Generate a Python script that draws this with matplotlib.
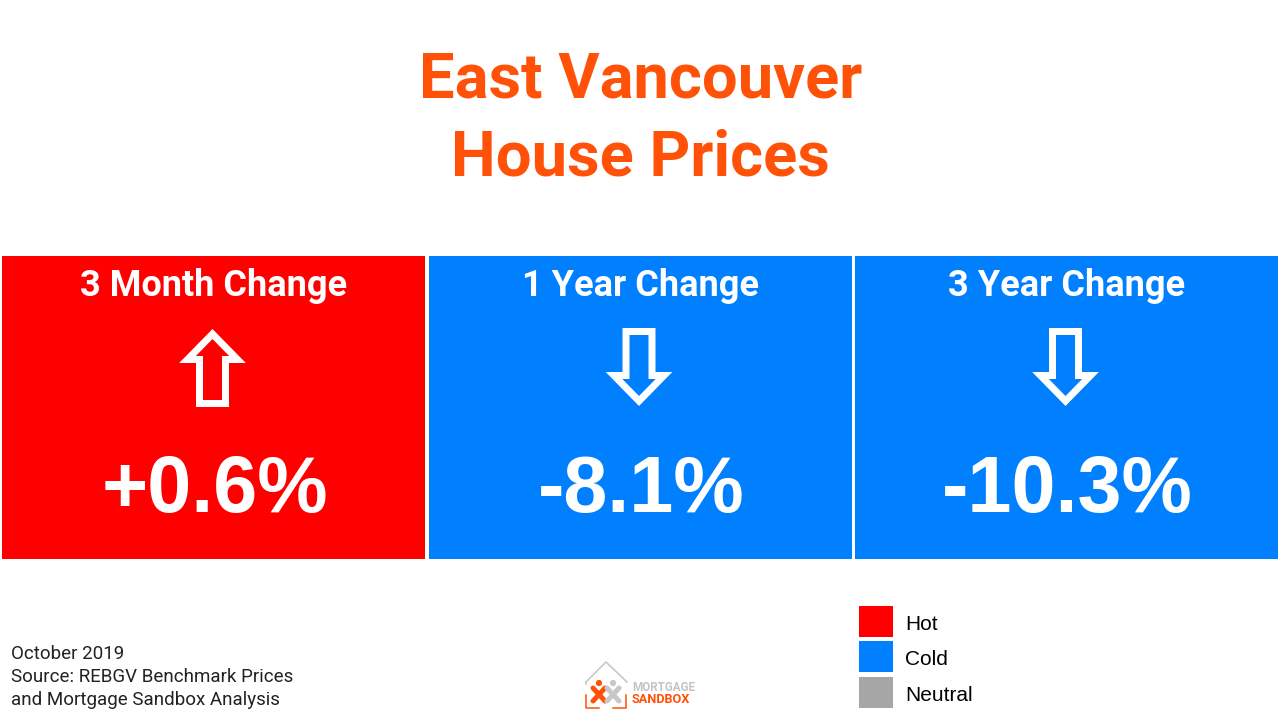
import matplotlib
matplotlib.use("Agg")
import matplotlib.pyplot as plt
from matplotlib.patches import Polygon, Rectangle, Circle

# --- data ---
periods = ["3 Month Change", "1 Year Change", "3 Year Change"]
changes = [0.6, -8.1, -10.3]
change_labels = ["+0.6%", "-8.1%", "-10.3%"]
legend_names = ["Hot", "Cold", "Neutral"]
legend_colors = ["#FF0000", "#0080FF", "#A6A6A6"]
title_lines = ["East Vancouver", "House Prices"]
source_lines = ["October 2019", "Source: REBGV Benchmark Prices", "and Mortgage Sandbox Analysis"]

ORANGE = "#FF5208"
HEAD_FONT = "Roboto"
NUM_FONT = "Liberation Sans"

fig = plt.figure(figsize=(12.8, 7.2), dpi=100)
ax = fig.add_axes([0, 0, 1, 1])
ax.set_xlim(0, 1280)
ax.set_ylim(720, 0)
ax.axis("off")


def draw_arrow(cx, up):
    # outline arrow, path runs along the middle of the white stroke
    s = 1 if up else -1
    mid = 367.5
    tip = mid - s * 33.5
    head = mid - s * 8
    foot = mid + s * 36
    pts = [(cx, tip), (cx + 25, head), (cx + 13, head), (cx + 13, foot),
           (cx - 13, foot), (cx - 13, head), (cx - 25, head)]
    ax.add_patch(Polygon(pts, closed=True, fill=False, edgecolor="white",
                         linewidth=5.04, joinstyle="miter", zorder=3))


# --- title ---
for y, line in zip([97, 175], title_lines):
    ax.text(640.5, y, line, color=ORANGE, fontsize=45.5, fontweight="bold",
            family=HEAD_FONT, ha="center", va="baseline")

# --- panels ---
lefts = [2 + i * 426.5 for i in range(len(periods))]
colors = [legend_colors[0] if c > 0 else legend_colors[1] for c in changes]
ax.bar(lefts, [303] * len(lefts), width=423, bottom=256, align="edge", color=colors)

for left, period, change, label in zip(lefts, periods, changes, change_labels):
    cx = left + 211.5
    ax.text(cx, 296, period, color="white", fontsize=26, fontweight="bold",
            family=HEAD_FONT, ha="center", va="baseline", zorder=3)
    draw_arrow(cx - 1, change > 0)
    ax.text(cx + 1, 512, label, color="white", fontsize=57, fontweight="bold",
            family=NUM_FONT, ha="center", va="baseline", zorder=3)

# --- legend ---
for y, name, color in zip([606, 641, 677], legend_names, legend_colors):
    ax.add_patch(Rectangle((859, y), 34, 31, facecolor=color, edgecolor="none"))
    ax.text(905, y + 24, name, color="black", fontsize=15, family=NUM_FONT,
            ha="left", va="baseline")

# --- source note ---
for y, line in zip([659, 682, 705], source_lines):
    ax.text(11, y, line, color="#222222", fontsize=13.5, family=HEAD_FONT,
            ha="left", va="baseline")

# --- logo ---
GREY = "#C8C8C8"
ax.plot([586, 606, 627], [682, 662, 682], color=GREY, lw=1.2)
ax.plot([586, 586], [682, 684], color=GREY, lw=1.2)
ax.plot([586, 586, 599], [695, 708, 708], color=ORANGE, lw=1.1)
ax.plot([613, 626, 626], [708, 708, 695], color=ORANGE, lw=1.1)
for cx, col in [(599, ORANGE), (613, GREY)]:
    ax.plot([cx - 6, cx + 6], [688, 701], color=col, lw=3.6, solid_capstyle="round")
    ax.plot([cx + 6, cx - 6], [688, 701], color=col, lw=3.6, solid_capstyle="round")
    ax.add_patch(Circle((cx, 683), 2.4, color=col))
ax.text(632, 691, "MORTGAGE", color="#C4C4C4", fontsize=8.4, family=HEAD_FONT,
        fontweight="bold", ha="left", va="baseline")
ax.text(632, 703, "SANDBOX", color=ORANGE, fontsize=9.2, family=HEAD_FONT,
        fontweight="bold", ha="left", va="baseline")

fig.savefig("out.png", dpi=100)
